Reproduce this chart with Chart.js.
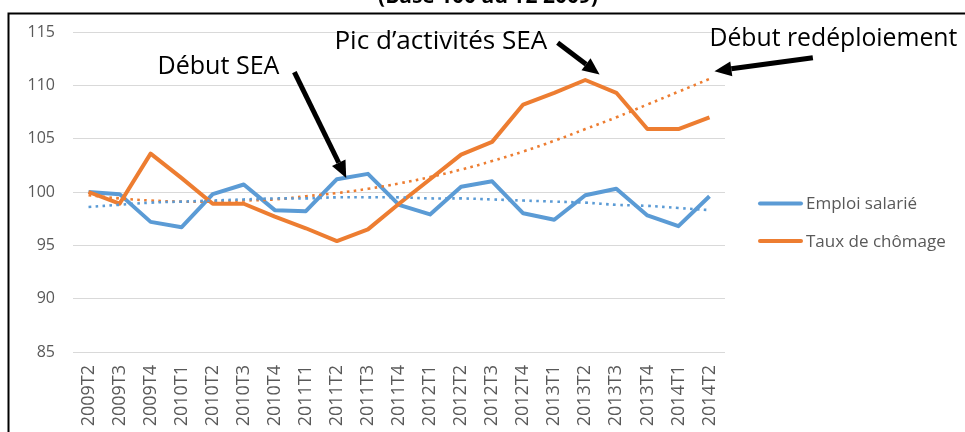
<!DOCTYPE html>
<html><head><meta charset="utf-8">
<script src="https://cdn.jsdelivr.net/npm/chart.js@4.4.1/dist/chart.umd.min.js"></script>
<style>html,body{margin:0;padding:0;background:#fff;overflow:hidden}canvas{display:block}</style>
</head><body>
<canvas id="c" width="965" height="432"></canvas>
<script>
const categories = ['2009T2','2009T3','2009T4','2010T1','2010T2','2010T3','2010T4','2011T1','2011T2','2011T3','2011T4','2012T1','2012T2','2012T3','2012T4','2013T1','2013T2','2013T3','2013T4','2014T1','2014T2'];
const emploiSalarie = [100.0, 99.8, 97.2, 96.7, 99.8, 100.7, 98.3, 98.2, 101.2, 101.7, 98.8, 97.9, 100.5, 101.0, 98.0, 97.4, 99.7, 100.3, 97.8, 96.8, 99.6];
const tauxChomage = [100.0, 98.9, 103.6, 101.3, 98.9, 98.9, 97.7, 96.6, 95.4, 96.5, 98.9, 101.2, 103.5, 104.7, 108.2, 109.3, 110.5, 109.3, 105.9, 105.9, 107.0];
const emploiTendance = [98.6, 98.8, 99.0, 99.1, 99.2, 99.3, 99.4, 99.4, 99.5, 99.5, 99.5, 99.4, 99.4, 99.3, 99.2, 99.1, 99.0, 98.8, 98.7, 98.5, 98.3];
const chomageTendance = [99.7, 99.4, 99.2, 99.1, 99.1, 99.2, 99.3, 99.6, 99.9, 100.3, 100.8, 101.4, 102.1, 102.9, 103.8, 104.8, 105.9, 107.0, 108.2, 109.4, 110.6];
const seriesNames = ['Emploi salarié', 'Taux de chômage'];
const yMin = 85, yMax = 115, yStep = 5;
const titleText = '(Base 100 au T2 2009)';
const noteTexts = ['Début SEA', 'Pic d\u2019activités SEA', 'Début redéploiement'];
// annotation anchors in data units (category index, value)
const noteAnchors = [[2.22, 111.09], [7.92, 113.37], [20.0, 113.66]];
const arrowFrom = [[6.63, 111.24], [15.11, 114.0], [23.33, 112.59]];
const arrowTo = [[8.30, 101.31], [16.46, 111.02], [20.16, 111.33]];

const BLUE = '#5b9bd5', ORANGE = '#ed7d31', GREY = '#595959';

function fitSize(ctx, text, weight, family, target, base) {
  ctx.font = weight + ' ' + base + 'px ' + family;
  const w = ctx.measureText(text).width;
  return base * target / w;
}

const deco = {
  id: 'deco',
  beforeDraw(chart) {
    const ctx = chart.ctx;
    ctx.save();
    ctx.fillStyle = '#fff';
    ctx.fillRect(0, 0, chart.width, chart.height);
    ctx.restore();
  },
  afterDatasetsDraw(chart) {
    const ctx = chart.ctx, xs = chart.scales.x, ys = chart.scales.y;
    const px = (p) => [xs.getPixelForValue(p[0]), ys.getPixelForValue(p[1])];
    ctx.save();
    // arrows
    for (let i = 0; i < arrowFrom.length; i++) {
      const [x0, y0] = px(arrowFrom[i]);
      const [x1, y1] = px(arrowTo[i]);
      const ang = Math.atan2(y1 - y0, x1 - x0);
      const hl = 17, hw = 7.5;
      const bx = x1 - hl * Math.cos(ang), by = y1 - hl * Math.sin(ang);
      ctx.strokeStyle = '#000'; ctx.fillStyle = '#000';
      ctx.lineWidth = 5; ctx.lineCap = 'butt';
      ctx.beginPath(); ctx.moveTo(x0, y0); ctx.lineTo(bx, by); ctx.stroke();
      ctx.beginPath();
      ctx.moveTo(x1, y1);
      ctx.lineTo(bx + hw * Math.sin(ang), by - hw * Math.cos(ang));
      ctx.lineTo(bx - hw * Math.sin(ang), by + hw * Math.cos(ang));
      ctx.closePath(); ctx.fill();
    }
    // texts
    const targets = [122, 213, 248];
    ctx.fillStyle = '#000';
    ctx.textBaseline = 'alphabetic'; ctx.textAlign = 'left';
    for (let i = 0; i < noteTexts.length; i++) {
      const s = fitSize(ctx, noteTexts[i], 'normal', '"Open Sans"', targets[i], 22);
      ctx.font = 'normal ' + s.toFixed(2) + 'px "Open Sans"';
      const [x, y] = px(noteAnchors[i]);
      ctx.fillText(noteTexts[i], x, y);
    }
    ctx.restore();
  },
  afterDraw(chart) {
    const ctx = chart.ctx;
    ctx.save();
    // frame
    ctx.strokeStyle = '#000'; ctx.lineWidth = 2;
    ctx.beginPath(); ctx.moveTo(8.5, chart.height + 2); ctx.lineTo(8.5, 13.5); ctx.lineTo(chart.width + 2, 13.5); ctx.stroke();
    // title (cropped at top)
    const ts = fitSize(ctx, titleText, 'bold', '"Open Sans"', 220, 16);
    ctx.font = 'bold ' + ts.toFixed(2) + 'px "Open Sans"';
    ctx.fillStyle = '#000'; ctx.textAlign = 'center'; ctx.textBaseline = 'alphabetic';
    ctx.fillText(titleText, 488, 3);
    // legend
    const cols = [BLUE, ORANGE], ly = [203.5, 241];
    ctx.textAlign = 'left'; ctx.textBaseline = 'middle';
    const ls = fitSize(ctx, seriesNames[0], 'normal', '"Open Sans"', 111, 15);
    ctx.font = 'normal ' + ls.toFixed(2) + 'px "Open Sans"';
    for (let i = 0; i < 2; i++) {
      ctx.strokeStyle = cols[i]; ctx.lineWidth = 4; ctx.lineCap = 'round';
      ctx.beginPath(); ctx.moveTo(760, ly[i]); ctx.lineTo(801, ly[i]); ctx.stroke();
      ctx.fillStyle = GREY;
      ctx.fillText(seriesNames[i], 806, ly[i] + 1);
    }
    ctx.restore();
  }
};

new Chart(document.getElementById('c'), {
  type: 'line',
  data: {
    labels: categories,
    datasets: [
      { label: seriesNames[0], data: emploiSalarie, borderColor: BLUE, borderWidth: 4, pointRadius: 0, tension: 0, order: 3, borderJoinStyle: 'round' },
      { label: seriesNames[1], data: tauxChomage, borderColor: ORANGE, borderWidth: 4, pointRadius: 0, tension: 0, order: 2, borderJoinStyle: 'round' },
      { label: 'Tendance emploi', data: emploiTendance, borderColor: BLUE, borderWidth: 2.6, borderDash: [2.6, 4.4], pointRadius: 0, tension: 0.4, order: 1 },
      { label: 'Tendance chômage', data: chomageTendance, borderColor: ORANGE, borderWidth: 2.6, borderDash: [2.6, 4.4], pointRadius: 0, tension: 0.4, order: 1 }
    ]
  },
  options: {
    responsive: false,
    animation: false,
    devicePixelRatio: 1,
    layout: { padding: { left: 0, right: 240, top: 32, bottom: 0 } },
    plugins: { legend: { display: false }, tooltip: { enabled: false }, title: { display: false } },
    scales: {
      x: {
        offset: true,
        grid: { display: false, drawTicks: false },
        border: { display: false },
        ticks: { color: GREY, font: { family: '"Open Sans"', size: 18 }, minRotation: 90, maxRotation: 90, padding: 13, autoSkip: false },
        afterFit(s) { s.height = 80; }
      },
      y: {
        min: yMin, max: yMax,
        grid: { color: '#d9d9d9', lineWidth: 1, drawTicks: false },
        border: { display: false },
        ticks: { stepSize: yStep, color: GREY, font: { family: '"Open Sans"', size: 16 }, padding: 18 },
        afterFit(s) { s.width = 73; }
      }
    }
  },
  plugins: [deco]
});
</script>
</body></html>
